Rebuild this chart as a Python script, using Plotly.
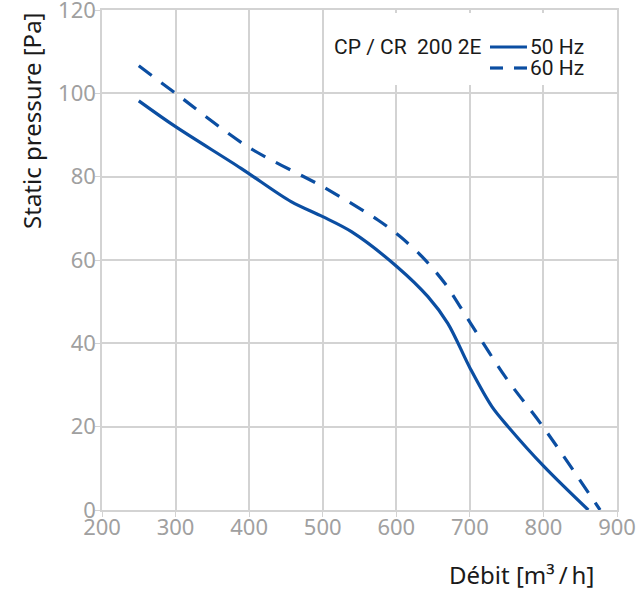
import plotly.graph_objects as go

flow_50 = [250, 300, 389, 457, 500, 539, 601, 643, 670, 701, 730, 752, 801, 861]
pres_50 = [98.2, 92, 82, 74, 70.4, 66.8, 58.4, 51.2, 44.8, 33.8, 24.8, 20, 10.4, 0]

flow_60 = [250, 300, 398, 500, 575, 604, 635, 666, 701, 748, 801, 877]
pres_60 = [106.6, 100, 87.2, 77.6, 69.6, 65.8, 60.8, 54.4, 44.8, 32, 19.6, 0]

x_ticks = [200, 300, 400, 500, 600, 700, 800, 900]
y_ticks = [0, 20, 40, 60, 80, 100, 120]

model_label = "CP / CR \u00a0200 2E"
series_names = ["50 Hz", "60 Hz"]
x_title = "Débit [m³\u2009/\u2009h]"
y_title = "Static pressure [Pa]"

BLUE = "#0b4ea2"
GRID = "#d3d3d3"
TICK = "#a0a0a0"
TXT = "#1a1a1a"
LFONT = "Roboto"
AFONT = "Noto Sans"

fig = go.Figure()
fig.add_trace(go.Scatter(x=flow_50, y=pres_50, mode="lines", name=series_names[0],
                         line=dict(color=BLUE, width=3.2, shape="spline", smoothing=0.9)))
fig.add_trace(go.Scatter(x=flow_60, y=pres_60, mode="lines", name=series_names[1],
                         line=dict(color=BLUE, width=3.2, dash="16px,12px", shape="spline", smoothing=0.9)))

axis_common = dict(showgrid=True, gridcolor=GRID, gridwidth=1.5, showline=True, linecolor=GRID,
                   linewidth=1.5, mirror=True, ticks="outside", ticklen=5, tickcolor=GRID,
                   tickfont=dict(family=AFONT, size=22, color=TICK), zeroline=False,
                   automargin=False, ticklabeloverflow="allow")

fig.update_xaxes(range=[200, 900], tickvals=x_ticks, ticklabelstandoff=-8, **axis_common)
fig.update_yaxes(range=[0, 120], tickvals=y_ticks, ticklabelstandoff=-5, **axis_common)

fig.add_annotation(text=y_title, xref="paper", yref="paper",
                   x=-0.136, y=0.778, xanchor="center", yanchor="middle",
                   textangle=-90, showarrow=False,
                   font=dict(family=AFONT, size=24, color=TXT))
fig.add_annotation(text=x_title, xref="paper", yref="paper",
                   x=0.8136, y=-0.128, xanchor="center", yanchor="middle", showarrow=False,
                   font=dict(family=AFONT, size=24, color=TXT))

# legend box (manual, to match the compact reference layout)
fig.add_shape(type="rect", xref="paper", yref="paper", x0=0.432, x1=0.997, y0=0.85, y1=0.994,
              fillcolor="white", line=dict(width=0), layer="above")
fig.add_annotation(text=model_label, xref="paper", yref="paper", x=0.738, y=0.926,
                   xanchor="right", yanchor="middle", showarrow=False, borderpad=0,
                   font=dict(family=LFONT, size=21, color=TXT))
fig.add_shape(type="line", xref="paper", yref="paper", x0=0.7534, x1=0.8252, y0=0.926, y1=0.926,
              line=dict(color=BLUE, width=3.2), layer="above")
fig.add_shape(type="line", xref="paper", yref="paper", x0=0.7534, x1=0.7786, y0=0.884, y1=0.884,
              line=dict(color=BLUE, width=3.2), layer="above")
fig.add_shape(type="line", xref="paper", yref="paper", x0=0.800, x1=0.8252, y0=0.884, y1=0.884,
              line=dict(color=BLUE, width=3.2), layer="above")
fig.add_annotation(text=series_names[0], xref="paper", yref="paper", x=0.829, y=0.926,
                   xanchor="left", yanchor="middle", showarrow=False, borderpad=0,
                   font=dict(family=LFONT, size=21, color=TXT))
fig.add_annotation(text=series_names[1], xref="paper", yref="paper", x=0.829, y=0.884,
                   xanchor="left", yanchor="middle", showarrow=False, borderpad=0,
                   font=dict(family=LFONT, size=21, color=TXT))

fig.update_layout(
    width=638, height=590,
    margin=dict(l=102, r=21, t=10, b=80),
    paper_bgcolor="white", plot_bgcolor="white",
    font=dict(family=AFONT, size=21, color=TXT),
    showlegend=False,
)

fig.write_html("out.html", config={"displayModeBar": False},
               post_script="document.body.style.margin='0px';")
